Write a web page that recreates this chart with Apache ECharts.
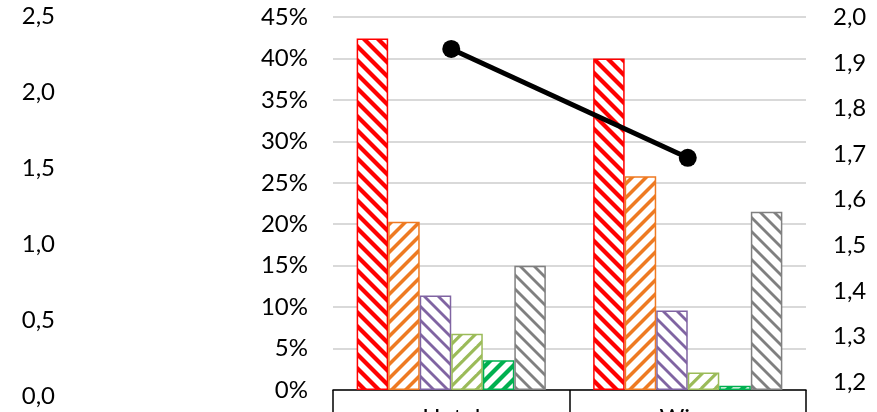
<!DOCTYPE html>
<html>
<head>
<meta charset="utf-8">
<script src="https://cdn.jsdelivr.net/npm/echarts@6/dist/echarts.min.js"></script>
<style>
html,body{margin:0;padding:0;background:#fff;}
#c{width:877px;height:412px;}
</style>
</head>
<body>
<div id="c"></div>
<script>
// ---- data ----
const categories = ['Hotel', 'Wien'];
const seriesNames = ['S1', 'S2', 'S3', 'S4', 'S5', 'S6'];
const s1 = [0.424, 0.400];
const s2 = [0.203, 0.258];
const s3 = [0.114, 0.096];
const s4 = [0.068, 0.021];
const s5 = [0.036, 0.005];
const s6 = [0.150, 0.215];
const lineValues = [1.931, 1.692];
const pctTicks = [0, 0.45, 0.05];
const rightTicks = [1.2, 2.0, 0.1];
const leftTicks = [0, 2.5, 0.5];

// ---- styles ----
const colors = ['#FF0000', '#EE7A22', '#8064A2', '#9BBB59', '#00B050', '#808080'];
const dirs = ['\\', '/', '\\', '/', '/', '\\'];
const widths = [6, 5, 4, 4.5, 6, 4];
const FONT = 'Lato';

function hatch(color, dir, w) {
  const P = 14;
  const c = document.createElement('canvas');
  c.width = P; c.height = P;
  const g = c.getContext('2d');
  g.fillStyle = '#fff';
  g.fillRect(0, 0, P, P);
  g.fillStyle = color;
  for (let k = -2; k <= 1; k++) {
    const x0 = k * P;
    let pts = [[x0, 0], [x0 + w, 0], [x0 + w + P, P], [x0 + P, P]];
    if (dir === '/') pts = pts.map(p => [P - p[0], p[1]]);
    g.beginPath();
    g.moveTo(pts[0][0], pts[0][1]);
    for (let i = 1; i < 4; i++) g.lineTo(pts[i][0], pts[i][1]);
    g.closePath();
    g.fill();
  }
  return c;
}

const barData = [s1, s2, s3, s4, s5, s6];
const fmtComma = v => v.toFixed(1).replace('.', ',');
const labelStyle = { color: '#000', fontFamily: FONT, fontSize: 24 };

const chart = echarts.init(document.getElementById('c'));
const option = {
  animation: false,
  grid: [
    { left: 333, right: 71, top: 17, bottom: 22, outerBoundsMode: 'none', containLabel: false },
    { left: 333, right: 71, top: 17.5, bottom: 30, outerBoundsMode: 'none', containLabel: false },
    { left: 60, width: 10, top: 16.7, bottom: 15.3, outerBoundsMode: 'none', containLabel: false }
  ],
  xAxis: [
    {
      gridIndex: 0, type: 'category', data: categories,
      axisLine: { lineStyle: { color: '#000', width: 1.5 } },
      axisTick: { show: true, length: 30, lineStyle: { color: '#000', width: 1.5 } },
      axisLabel: Object.assign({ margin: 16, verticalAlign: 'top' }, labelStyle)
    },
    { gridIndex: 1, type: 'category', data: categories, show: false },
    { gridIndex: 2, type: 'value', show: false }
  ],
  yAxis: [
    {
      gridIndex: 0, type: 'value', min: pctTicks[0], max: pctTicks[1], interval: pctTicks[2],
      axisLine: { show: false }, axisTick: { show: false },
      splitLine: { lineStyle: { color: '#D9D9D9', width: 2 } },
      axisLabel: Object.assign({ margin: 25, formatter: v => Math.round(v * 100) + '%' }, labelStyle)
    },
    {
      gridIndex: 1, type: 'value', position: 'right', min: rightTicks[0], max: rightTicks[1], interval: rightTicks[2],
      axisLine: { show: false }, axisTick: { show: false }, splitLine: { show: false },
      axisLabel: Object.assign({ margin: 27, formatter: fmtComma }, labelStyle)
    },
    {
      gridIndex: 2, type: 'value', position: 'left', min: leftTicks[0], max: leftTicks[1], interval: leftTicks[2],
      axisLine: { show: false }, axisTick: { show: false }, splitLine: { show: false },
      axisLabel: Object.assign({ margin: 5, formatter: fmtComma }, labelStyle)
    }
  ],
  series: barData.map((d, i) => ({
    name: seriesNames[i],
    type: 'bar', xAxisIndex: 0, yAxisIndex: 0,
    data: d,
    barGap: '0%', barCategoryGap: '20%',
    itemStyle: {
      color: { image: hatch(colors[i], dirs[i], widths[i]), repeat: 'repeat' },
      borderColor: colors[i], borderWidth: 1.5
    }
  })).concat([{
    type: 'line', xAxisIndex: 1, yAxisIndex: 1,
    data: lineValues,
    symbol: 'circle', symbolSize: 18,
    lineStyle: { color: '#000', width: 5 },
    itemStyle: { color: '#000' },
    z: 5
  }])
};
chart.setOption(option);
</script>
</body>
</html>
